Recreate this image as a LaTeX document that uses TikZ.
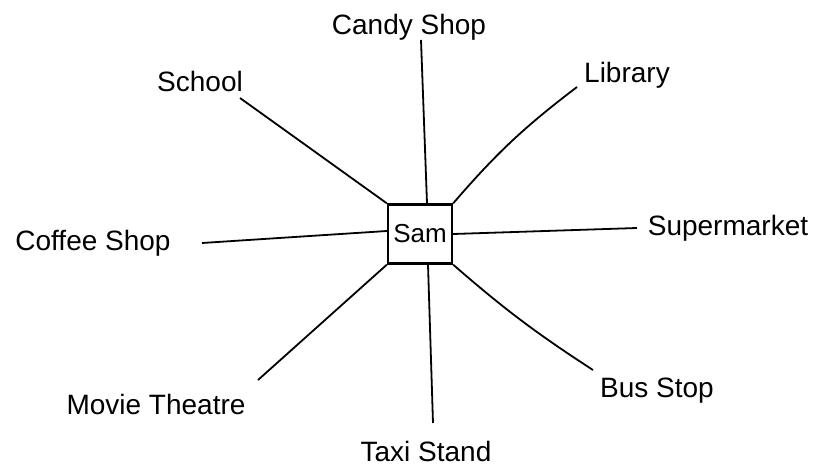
\documentclass[tikz,border=0pt]{standalone}
\usepackage{fontspec}
\setmainfont{Liberation Sans}
\usepackage{tikz}
\usetikzlibrary{positioning}

\begin{document}
\begin{tikzpicture}[
  x=0.5pt, y=-0.5pt,
  hub/.style={
    draw, line width=1.2pt,
    minimum width=32pt, minimum height=29.5pt,
    inner sep=1pt, font=\fontsize{13}{15}\selectfont
  },
  place/.style={
    inner sep=0pt, text height=10pt, text depth=3pt,
    font=\fontsize{14}{16}\selectfont
  },
  spoke/.style={line width=0.9pt}
]
\useasboundingbox (0,0) rectangle (814,466);

\node[hub] (sam) at (420,234) {Sam};

\node[place] (school) at (200,84) {School};
\node[place] (candy) at (409,27) {Candy Shop};
\node[place] (library) at (627,75) {Library};
\node[place] (coffee) at (93,243) {Coffee Shop};
\node[place] (market) at (728,228) {Supermarket};
\node[place] (movie) at (156,407) {Movie Theatre};
\node[place] (taxi) at (426,454) {Taxi Stand};
\node[place] (bus) at (657,390) {Bus Stop};

\coordinate (schoolend) at (240,98);
\coordinate (candyend) at (421,40);
\coordinate (libraryend) at (577,87);
\coordinate (coffeeend) at (202,243);
\coordinate (marketend) at (637,228);
\coordinate (movieend) at (258,380);
\coordinate (taxiend) at (433,423);
\coordinate (busend) at (593,370);

\draw[spoke] (sam.north west) -- (schoolend);
\draw[spoke] ([xshift=3.5pt]sam.north) -- (candyend);
\draw[spoke] (sam.north east) to[bend left=6] (libraryend);
\draw[spoke] ([yshift=1.5pt]sam.west) -- (coffeeend);
\draw[spoke] (sam.east) -- (marketend);
\draw[spoke] (sam.south west) -- (movieend);
\draw[spoke] ([xshift=4pt]sam.south) -- (taxiend);
\draw[spoke] (sam.south east) to[bend right=4] (busend);

\end{tikzpicture}
\end{document}
